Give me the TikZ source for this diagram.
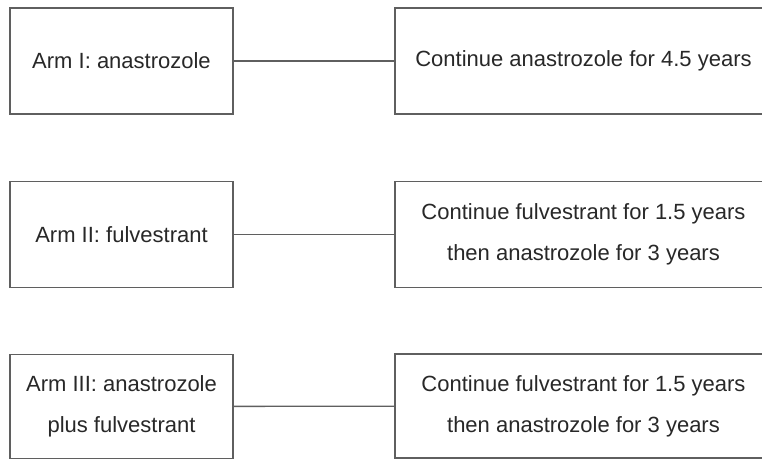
\documentclass[tikz,border=0pt]{standalone}
\usepackage{fontspec}
\setmainfont{Liberation Sans}
\definecolor{linec}{RGB}{95,95,95}
\definecolor{textc}{RGB}{40,40,40}
\begin{document}
\begin{tikzpicture}[x=1pt,y=-1pt,
  armbox/.style={draw=linec,line width=1.4pt,minimum width=223pt,minimum height=106pt,inner sep=0pt,align=center,text=textc,font=\fontsize{22}{41}\selectfont},
  contbox/.style={armbox,minimum width=377pt},
  link/.style={draw=linec,line width=1.3pt}]
\useasboundingbox (0,0) rectangle (762,460);
\clip (0,0) rectangle (762,460);
\fill[white] (0,0) rectangle (762,460);
\node[armbox] (a1) at (121.5,61) {Arm I: anastrozole};
\node[contbox] (c1) at (583.5,61) {Continue anastrozole for 4.5 years};
\node[armbox] (a2) at (121.5,234.5) {Arm II: fulvestrant};
\node[contbox] (c2) at (583.5,234.5) {Continue fulvestrant for 1.5 years\\then anastrozole for 3 years};
\node[armbox,minimum height=104pt] (a3) at (121.5,406.5) {Arm III: anastrozole\\plus fulvestrant};
\node[contbox,minimum height=104pt] (c3) at (583.5,406) {Continue fulvestrant for 1.5 years\\then anastrozole for 3 years};
\draw[link] (a1) -- (c1);
\draw[link] (a2) -- (c2);
\draw[link] (a3) -- (c3);
\end{tikzpicture}
\end{document}
